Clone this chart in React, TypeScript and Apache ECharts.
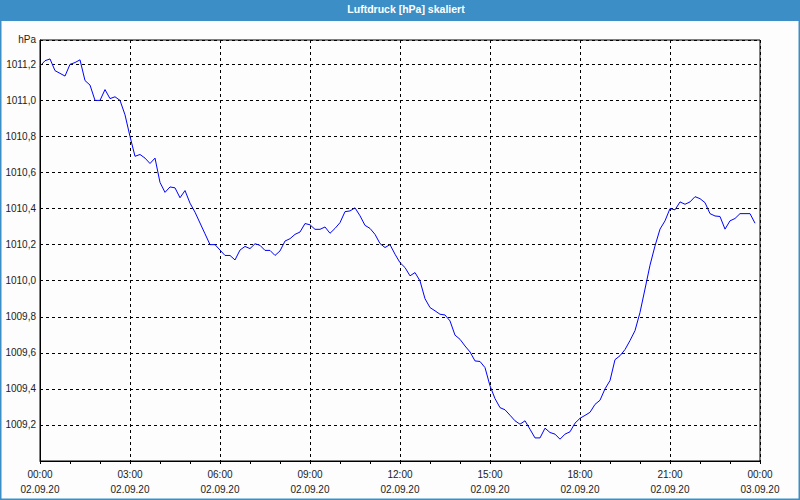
import React, { useEffect, useRef } from "react";
import * as echarts from "echarts";

// 10-minute readings, 02.09.20 00:00 .. 23:50 (minutes since midnight from index)
const STEP_MINUTES = 10;
const pressure: number[] = [
  1011.19, 1011.22, 1011.23, 1011.165, 1011.15, 1011.135, 1011.2, 1011.21, 1011.225, 1011.11,
  1011.085, 1011.0, 1011.0, 1011.06, 1011.01, 1011.02, 1011.0, 1010.92, 1010.8, 1010.69,
  1010.7, 1010.68, 1010.65, 1010.68, 1010.545, 1010.49, 1010.52, 1010.515, 1010.46, 1010.5,
  1010.43, 1010.38, 1010.32, 1010.26, 1010.2, 1010.2, 1010.17, 1010.14, 1010.14, 1010.115,
  1010.17, 1010.19, 1010.178, 1010.205, 1010.196, 1010.168, 1010.168, 1010.14, 1010.165, 1010.22,
  1010.233, 1010.257, 1010.27, 1010.317, 1010.31, 1010.285, 1010.285, 1010.298, 1010.263, 1010.29,
  1010.322, 1010.383, 1010.387, 1010.404, 1010.36, 1010.307, 1010.29, 1010.257, 1010.206, 1010.184,
  1010.2, 1010.147, 1010.1, 1010.073, 1010.027, 1010.045, 1009.999, 1009.9, 1009.851, 1009.833,
  1009.814, 1009.81, 1009.777, 1009.698, 1009.675, 1009.638, 1009.605, 1009.555, 1009.552, 1009.518,
  1009.417, 1009.346, 1009.296, 1009.284, 1009.254, 1009.223, 1009.204, 1009.223, 1009.176, 1009.128,
  1009.128, 1009.182, 1009.158, 1009.149, 1009.121, 1009.149, 1009.162, 1009.21, 1009.237, 1009.253,
  1009.27, 1009.314, 1009.337, 1009.4, 1009.446, 1009.562, 1009.584, 1009.618, 1009.668, 1009.723,
  1009.824, 1009.954, 1010.086, 1010.193, 1010.286, 1010.332, 1010.4, 1010.393, 1010.437, 1010.424,
  1010.437, 1010.466, 1010.455, 1010.433, 1010.372, 1010.359, 1010.356, 1010.286, 1010.332, 1010.345,
  1010.372, 1010.372, 1010.372, 1010.319,
];

const TITLE = "Luftdruck [hPa] skaliert";
const UNIT = "hPa";
const DATE_START = "02.09.20";
const DATE_END = "03.09.20";
const Y_MIN = 1009.0;
const Y_MAX = 1011.335;
const Y_STEP = 0.2;
const X_MIN = 0;
const X_MAX = 1440;
const X_STEP = 180;

const FONT = "'Liberation Sans', Arial, sans-serif";

export default function App() {
  const ref = useRef<HTMLDivElement>(null);

  useEffect(() => {
    if (!ref.current) return;
    const chart = echarts.init(ref.current, null, { renderer: "svg" });
    const data = pressure.map((v, i) => [i * STEP_MINUTES, v]);

    chart.setOption({
      animation: false,
      backgroundColor: "#fcfdfc",
      graphic: [
        {
          type: "rect",
          shape: { x: 0, y: 0, width: 800, height: 21 },
          style: { fill: "#3c8fc6" },
          silent: true,
        },
        {
          type: "rect",
          shape: { x: 0.75, y: 0.75, width: 798.5, height: 498.5 },
          style: { fill: "none", stroke: "#3c8fc6", lineWidth: 1.5 },
          silent: true,
        },
        {
          type: "text",
          x: 406,
          y: 9,
          style: {
            text: TITLE,
            fill: "#ffffff",
            font: `bold 10.5px ${FONT}`,
            align: "center",
            verticalAlign: "middle",
          },
          silent: true,
        },
      ],
      grid: {
        left: 40,
        top: 40,
        right: 40,
        bottom: 39,
        show: true,
        borderColor: "#000",
        borderWidth: 1,
        backgroundColor: "transparent",
      },
      xAxis: {
        type: "value",
        min: X_MIN,
        max: X_MAX,
        interval: X_STEP,
        axisLine: { show: true, onZero: false, lineStyle: { color: "#000", width: 1 } },
        axisTick: { show: true, length: 3, lineStyle: { color: "#000" } },
        minorTick: { show: true, splitNumber: 3, length: 3, lineStyle: { color: "#000" } },
        minorSplitLine: { show: false },
        splitLine: { show: true, lineStyle: { color: "#000", type: [3, 3], width: 1 } },
        axisLabel: {
          margin: 6,
          color: "#222",
          fontFamily: FONT,
          fontSize: 10,
          lineHeight: 15,
          formatter: (v: number) => {
            const h = Math.round(v / 60) % 24;
            const hh = (h < 10 ? "0" : "") + h + ":00";
            return hh + "\n" + (v >= X_MAX ? DATE_END : DATE_START);
          },
        },
      },
      yAxis: {
        type: "value",
        min: Y_MIN,
        max: Y_MAX,
        interval: Y_STEP,
        name: UNIT,
        nameLocation: "end",
        nameGap: -4,
        nameTextStyle: {
          color: "#222",
          fontFamily: FONT,
          fontSize: 10,
          align: "right",
          padding: [0, 4, 0, 0],
        },
        axisLine: { show: true, lineStyle: { color: "#000" } },
        axisTick: { show: false },
        splitLine: { show: true, lineStyle: { color: "#000", type: [3, 3], width: 1 } },
        axisLabel: {
          margin: 4,
          color: "#222",
          fontFamily: FONT,
          fontSize: 10,
          showMinLabel: false,
          showMaxLabel: false,
          formatter: (v: number) => {
            if (v <= Y_MIN + 1e-6 || v > Y_MAX - 0.1) return "";
            return v.toFixed(1).replace(".", ",");
          },
        },
      },
      series: [
        {
          type: "line",
          data,
          showSymbol: false,
          symbol: "none",
          lineStyle: { color: "#0000ff", width: 1 },
          silent: true,
        },
      ],
    });

    return () => chart.dispose();
  }, []);

  return (
    <div
      ref={ref}
      style={{ position: "fixed", left: 0, top: 0, width: 800, height: 500 }}
    />
  );
}
